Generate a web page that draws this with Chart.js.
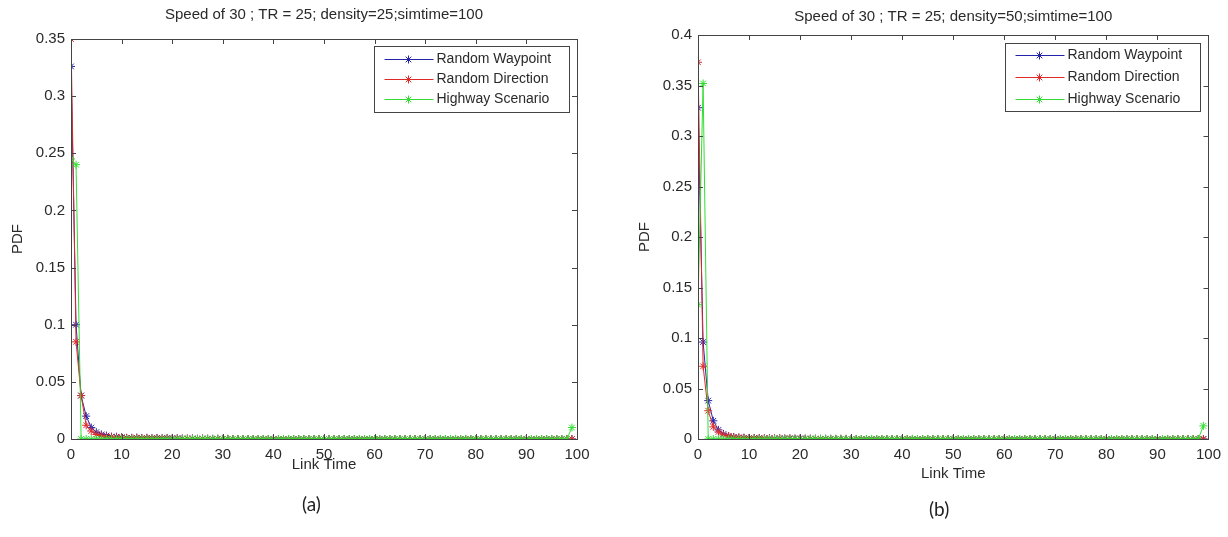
<!DOCTYPE html>
<html>
<head>
<meta charset="utf-8">
<script src="https://cdn.jsdelivr.net/npm/chart.js@4.4.1/dist/chart.umd.min.js"></script>
<style>
  body { margin: 0; background: #fff; width: 1228px; height: 537px; overflow: hidden; position: relative; }
  .panel { position: absolute; top: 0; width: 614px; height: 537px; }
  .cap { position: absolute; font-family: Lato, "Open Sans", sans-serif; font-size: 19px; color: #222; }
</style>
</head>
<body>
<div class="panel" style="left:0"><canvas id="chartA"></canvas></div>
<div class="panel" style="left:614px"><canvas id="chartB"></canvas></div>
<div class="cap" style="left:302px; top:492px">(a)</div>
<div class="cap" style="left:929px; top:497px">(b)</div>
<script>
// link time (x) shared by both plots
var linkTime = [
  0, 1, 2, 3, 4, 5, 6, 7, 8, 9,
  10, 11, 12, 13, 14, 15, 16, 17, 18, 19,
  20, 21, 22, 23, 24, 25, 26, 27, 28, 29,
  30, 31, 32, 33, 34, 35, 36, 37, 38, 39,
  40, 41, 42, 43, 44, 45, 46, 47, 48, 49,
  50, 51, 52, 53, 54, 55, 56, 57, 58, 59,
  60, 61, 62, 63, 64, 65, 66, 67, 68, 69,
  70, 71, 72, 73, 74, 75, 76, 77, 78, 79,
  80, 81, 82, 83, 84, 85, 86, 87, 88, 89,
  90, 91, 92, 93, 94, 95, 96, 97, 98, 99
];
var seriesNames = ['Random Waypoint', 'Random Direction', 'Highway Scenario'];
var xTicks = [0, 10, 20, 30, 40, 50, 60, 70, 80, 90, 100];
var yTicksA = [0, 0.05, 0.1, 0.15, 0.2, 0.25, 0.3, 0.35];
var yTicksB = [0, 0.05, 0.1, 0.15, 0.2, 0.25, 0.3, 0.35, 0.4];

// (a) density = 25
var waypointA = [
  0.326, 0.100, 0.038, 0.020, 0.010, 0.006, 0.004, 0.003, 0.002, 0.002,
  0.0015, 0.001, 0.001, 0.0012, 0.0008, 0.001, 0.0007, 0.0009, 0.0006, 0.0008,
  0.0005, 0.0006, 0.0004, 0.0003, 0.0005, 0.0002, 0.0004, 0.0003, 0.0002, 0.0003,
  0.0002, 0.0001, 0, 0, 0, 0, 0, 0, 0, 0,
  0, 0, 0, 0, 0, 0, 0, 0, 0, 0,
  0, 0, 0, 0, 0, 0, 0, 0, 0, 0,
  0, 0, 0, 0, 0, 0, 0, 0, 0, 0,
  0, 0, 0, 0, 0, 0, 0, 0, 0, 0,
  0, 0, 0, 0, 0, 0, 0, 0, 0, 0,
  0, 0, 0, 0, 0, 0, 0, 0, 0, 0
];
var directionA = [
  0.350, 0.085, 0.038, 0.012, 0.007, 0.004, 0.003, 0.002, 0.002, 0.0015,
  0.0012, 0.001, 0.0009, 0.001, 0.0007, 0.0008, 0.0006, 0.0007, 0.0005, 0.0006,
  0.0004, 0.0005, 0.0003, 0.0004, 0.0003, 0.0002, 0.0003, 0.0002, 0.0001, 0.0002,
  0.0001, 0.0001, 0, 0, 0, 0, 0, 0, 0, 0,
  0, 0, 0, 0, 0, 0, 0, 0, 0, 0,
  0, 0, 0, 0, 0, 0, 0, 0, 0, 0,
  0, 0, 0, 0, 0, 0, 0, 0, 0, 0,
  0, 0, 0, 0, 0, 0, 0, 0, 0, 0,
  0, 0, 0, 0, 0, 0, 0, 0, 0, 0,
  0, 0, 0, 0, 0, 0, 0, 0, 0, 0
];
var highwayA = [
  0.245, 0.240, 0, 0, 0, 0, 0, 0, 0, 0,
  0, 0, 0, 0, 0, 0, 0, 0, 0, 0,
  0, 0, 0, 0, 0, 0, 0, 0, 0, 0,
  0, 0, 0, 0, 0, 0, 0, 0, 0, 0,
  0, 0, 0, 0, 0, 0, 0, 0, 0, 0,
  0, 0, 0, 0, 0, 0, 0, 0, 0, 0,
  0, 0, 0, 0, 0, 0, 0, 0, 0, 0,
  0, 0, 0, 0, 0, 0, 0, 0, 0, 0,
  0, 0, 0, 0, 0, 0, 0, 0, 0, 0,
  0, 0, 0, 0, 0, 0, 0, 0, 0, 0.010
];

// (b) density = 50
var waypointB = [
  0.328, 0.096, 0.038, 0.018, 0.009, 0.005, 0.003, 0.002, 0.0015, 0.0012,
  0.001, 0.0009, 0.001, 0.0007, 0.0008, 0.0006, 0.0007, 0.0005, 0.0006, 0.0004,
  0.0005, 0.0003, 0.0004, 0.0003, 0.0002, 0.0003, 0.0002, 0.0001, 0.0002, 0.0001,
  0.0001, 0, 0, 0, 0, 0, 0, 0, 0, 0,
  0, 0, 0, 0, 0, 0, 0, 0, 0, 0,
  0, 0, 0, 0, 0, 0, 0, 0, 0, 0,
  0, 0, 0, 0, 0, 0, 0, 0, 0, 0,
  0, 0, 0, 0, 0, 0, 0, 0, 0, 0,
  0, 0, 0, 0, 0, 0, 0, 0, 0, 0,
  0, 0, 0, 0, 0, 0, 0, 0, 0, 0
];
var directionB = [
  0.373, 0.072, 0.028, 0.012, 0.007, 0.004, 0.003, 0.002, 0.0015, 0.0012,
  0.001, 0.0008, 0.0009, 0.0006, 0.0007, 0.0005, 0.0006, 0.0004, 0.0005, 0.0003,
  0.0004, 0.0003, 0.0002, 0.0003, 0.0002, 0.0001, 0.0002, 0.0001, 0.0001, 0.0001,
  0, 0, 0, 0, 0, 0, 0, 0, 0, 0,
  0, 0, 0, 0, 0, 0, 0, 0, 0, 0,
  0, 0, 0, 0, 0, 0, 0, 0, 0, 0,
  0, 0, 0, 0, 0, 0, 0, 0, 0, 0,
  0, 0, 0, 0, 0, 0, 0, 0, 0, 0,
  0, 0, 0, 0, 0, 0, 0, 0, 0, 0,
  0, 0, 0, 0, 0, 0, 0, 0, 0, 0
];
var highwayB = [
  0.133, 0.352, 0, 0, 0, 0, 0, 0, 0, 0,
  0, 0, 0, 0, 0, 0, 0, 0, 0, 0,
  0, 0, 0, 0, 0, 0, 0, 0, 0, 0,
  0, 0, 0, 0, 0, 0, 0, 0, 0, 0,
  0, 0, 0, 0, 0, 0, 0, 0, 0, 0,
  0, 0, 0, 0, 0, 0, 0, 0, 0, 0,
  0, 0, 0, 0, 0, 0, 0, 0, 0, 0,
  0, 0, 0, 0, 0, 0, 0, 0, 0, 0,
  0, 0, 0, 0, 0, 0, 0, 0, 0, 0,
  0, 0, 0, 0, 0, 0, 0, 0, 0, 0.013
];

var colors = ['#2424a8', '#e02a2a', '#33dd33'];
var FONT = '"Liberation Sans", Arial, sans-serif';
var TEXT = '#2a2a2a';

// draw a matlab style "*" marker
function drawStar(ctx, x, y, r) {
  ctx.beginPath();
  ctx.moveTo(x - r, y); ctx.lineTo(x + r, y);
  ctx.moveTo(x, y - r); ctx.lineTo(x, y + r);
  var d = r * 0.7;
  ctx.moveTo(x - d, y - d); ctx.lineTo(x + d, y + d);
  ctx.moveTo(x - d, y + d); ctx.lineTo(x + d, y - d);
  ctx.stroke();
}

// box around the axes + inward ticks on all four sides
var matlabBox = {
  id: 'matlabBox',
  afterDraw: function (chart) {
    var ctx = chart.ctx, a = chart.chartArea;
    var xs = chart.scales.x, ys = chart.scales.y;
    var L = 5;
    ctx.save();
    ctx.strokeStyle = '#444';
    ctx.lineWidth = 1;
    ctx.strokeRect(Math.round(a.left) + 0.5, Math.round(a.top) + 0.5,
      Math.round(a.right - a.left), Math.round(a.bottom - a.top));
    ctx.beginPath();
    xs.ticks.forEach(function (t) {
      var px = Math.round(xs.getPixelForValue(t.value)) + 0.5;
      ctx.moveTo(px, a.bottom); ctx.lineTo(px, a.bottom - L);
      ctx.moveTo(px, a.top); ctx.lineTo(px, a.top + L);
    });
    ys.ticks.forEach(function (t) {
      var py = Math.round(ys.getPixelForValue(t.value)) + 0.5;
      ctx.moveTo(a.left, py); ctx.lineTo(a.left + L, py);
      ctx.moveTo(a.right, py); ctx.lineTo(a.right - L, py);
    });
    ctx.stroke();
    ctx.restore();
  }
};

// legend drawn inside the axes, top right
var insideLegend = {
  id: 'insideLegend',
  afterDraw: function (chart, args, opts) {
    var ctx = chart.ctx, a = chart.chartArea;
    var w = opts.width, h = opts.height;
    var x = Math.round(a.right - opts.right - w) + 0.5;
    var y = Math.round(a.top + opts.top) + 0.5;
    ctx.save();
    ctx.fillStyle = '#fff';
    ctx.fillRect(x, y, w, h);
    ctx.strokeStyle = '#444';
    ctx.lineWidth = 1;
    ctx.strokeRect(x, y, w, h);
    ctx.font = '14px ' + FONT;
    ctx.textBaseline = 'middle';
    ctx.textAlign = 'left';
    chart.data.datasets.forEach(function (ds, i) {
      var yy = y + opts.first + i * opts.rowH;
      ctx.strokeStyle = ds.borderColor;
      ctx.beginPath();
      ctx.moveTo(x + 10, yy); ctx.lineTo(x + 59, yy);
      ctx.stroke();
      drawStar(ctx, x + 34, yy, 4);
      ctx.fillStyle = TEXT;
      ctx.fillText(ds.label, x + 62, yy);
    });
    ctx.restore();
  }
};

function makeDatasets(w, d, h) {
  return [w, d, h].map(function (vals, i) {
    return {
      label: seriesNames[i],
      data: vals,
      borderColor: colors[i],
      backgroundColor: colors[i],
      borderWidth: 1,
      pointStyle: 'star',
      pointRadius: 4,
      pointBorderWidth: 1,
      pointBorderColor: colors[i],
      tension: 0,
      order: 2 - i
    };
  });
}

function makeChart(id, cfg) {
  var ctx = document.getElementById(id).getContext('2d');
  return new Chart(ctx, {
    type: 'line',
    data: {
      labels: linkTime,
      datasets: makeDatasets(cfg.w, cfg.d, cfg.h)
    },
    options: {
      responsive: true,
      maintainAspectRatio: false,
      animation: false,
      layout: { padding: { left: 0, right: cfg.padRight, top: 0, bottom: 0 } },
      scales: {
        x: {
          type: 'linear',
          min: 0, max: 100,
          afterFit: function (s) { s.height = cfg.xHeight; },
          afterBuildTicks: function (s) { s.ticks = xTicks.map(function (v) { return { value: v }; }); },
          grid: { display: false, drawTicks: false },
          border: { display: false },
          ticks: { padding: 7, color: TEXT, font: { family: FONT, size: 15 }, maxRotation: 0 },
          title: { display: true, text: 'Link Time', color: TEXT, font: { family: FONT, size: 15 },
                   padding: { top: 0, bottom: cfg.xTitlePad } }
        },
        y: {
          min: 0, max: cfg.yTicks[cfg.yTicks.length - 1],
          afterFit: function (s) { s.width = cfg.yWidth; },
          afterBuildTicks: function (s) { s.ticks = cfg.yTicks.map(function (v) { return { value: v }; }); },
          grid: { display: false, drawTicks: false },
          border: { display: false },
          ticks: { padding: 6, color: TEXT, font: { family: FONT, size: 15 },
                   callback: function (v) { return String(parseFloat(v.toFixed(2))); } },
          title: { display: true, text: 'PDF', color: TEXT, font: { family: FONT, size: 15 },
                   padding: { top: cfg.yTitlePad, bottom: 0 } }
        }
      },
      plugins: {
        legend: { display: false },
        tooltip: { enabled: false },
        title: {
          display: true,
          fullSize: false,   // center over the axes, like matlab
          text: cfg.title,
          color: TEXT,
          font: { family: FONT, size: 15, weight: 'normal' },
          padding: { top: cfg.titleTop, bottom: cfg.titleBottom }
        },
        insideLegend: cfg.legend
      }
    },
    plugins: [matlabBox, insideLegend]
  });
}

makeChart('chartA', {
  w: waypointA, d: directionA, h: highwayA,
  title: 'Speed of 30 ; TR = 25; density=25;simtime=100',
  yTicks: yTicksA,
  padRight: 37, yWidth: 71, xHeight: 98,
  xTitlePad: 63, yTitlePad: 9,
  titleTop: 6, titleBottom: 15,
  legend: { width: 195, height: 66, right: 8, top: 7, first: 13, rowH: 20 }
});

makeChart('chartB', {
  w: waypointB, d: directionB, h: highwayB,
  title: 'Speed of 30 ; TR = 25; density=50;simtime=100',
  yTicks: yTicksB,
  padRight: 17, yWidth: 84, xHeight: 98,
  xTitlePad: 54, yTitlePad: 22,
  titleTop: 8, titleBottom: 9,
  legend: { width: 195, height: 68, right: 8, top: 8, first: 12, rowH: 22 }
});
</script>
</body>
</html>
